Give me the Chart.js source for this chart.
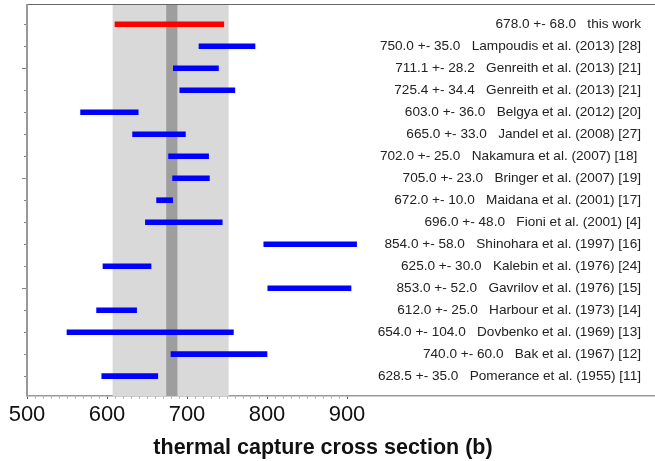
<!DOCTYPE html>
<html>
<head>
<meta charset="utf-8">
<script src="https://cdn.jsdelivr.net/npm/chart.js@4"></script>
<style>
  html, body { margin: 0; padding: 0; background: #fff; }
  #wrap { width: 655px; height: 461px; position: relative; }
</style>
</head>
<body>
<div id="wrap"><canvas id="c" width="655" height="461"></canvas></div>
<script>
// ---- data ----
const measurements = [678.0, 750.0, 711.1, 725.4, 603.0, 665.0, 702.0, 705.0, 672.0, 696.0, 854.0, 625.0, 853.0, 612.0, 654.0, 740.0, 628.5];
const uncertainties = [68.0, 35.0, 28.2, 34.4, 36.0, 33.0, 25.0, 23.0, 10.0, 48.0, 58.0, 30.0, 52.0, 25.0, 104.0, 60.0, 35.0];
const references = [
  "this work",
  "Lampoudis et al. (2013) [28]",
  "Genreith et al. (2013) [21]",
  "Genreith et al. (2013) [21]",
  "Belgya et al. (2012) [20]",
  "Jandel et al. (2008) [27]",
  "Nakamura et al. (2007) [18] ",
  "Bringer et al. (2007) [19]",
  "Maidana et al. (2001) [17]",
  "Fioni et al. (2001) [4]",
  "Shinohara et al. (1997) [16]",
  "Kalebin et al. (1976) [24]",
  "Gavrilov et al. (1976) [15]",
  "Harbour et al. (1973) [14]",
  "Dovbenko et al. (1969) [13]",
  "Bak et al. (1967) [12]",
  "Pomerance et al. (1955) [11]"
];
const wideBand = [607, 752];
const narrowBand = [674, 688];
const xTickLabels = [500, 600, 700, 800, 900];
const xTitle = "thermal capture cross section (b)";

const FONT = "'Liberation Sans', Arial, Helvetica, sans-serif";

const rows = measurements.map((v, i) => ({ x: [v - uncertainties[i], v + uncertainties[i]], y: i }));
const colors = measurements.map((v, i) => i === 0 ? '#ff0000' : '#0000ff');

const decor = {
  id: 'decor',
  beforeDatasetsDraw(chart) {
    const { ctx, chartArea: a, scales: { x } } = chart;
    ctx.save();
    ctx.fillStyle = '#d9d9d9';
    let l = x.getPixelForValue(wideBand[0]), r = x.getPixelForValue(wideBand[1]);
    ctx.fillRect(l, a.top, r - l, a.bottom - a.top);
    ctx.fillStyle = '#9e9e9e';
    l = x.getPixelForValue(narrowBand[0]); r = x.getPixelForValue(narrowBand[1]);
    ctx.fillRect(l, a.top, r - l, a.bottom - a.top);
    ctx.restore();
  },
  afterDatasetsDraw(chart) {
    const { ctx, chartArea: a, scales: { y } } = chart;
    ctx.save();
    // top frame line
    ctx.strokeStyle = '#666';
    ctx.lineWidth = 1;
    ctx.beginPath();
    ctx.moveTo(a.left, a.top + 0.5);
    ctx.lineTo(a.right, a.top + 0.5);
    ctx.stroke();
    // left axis line
    ctx.strokeStyle = '#999';
    ctx.lineWidth = 2;
    ctx.beginPath();
    ctx.moveTo(a.left, a.top);
    ctx.lineTo(a.left, a.bottom);
    ctx.stroke();
    // y ticks
    ctx.lineWidth = 1;
    ctx.strokeStyle = '#888';
    measurements.forEach((v, i) => {
      const py = Math.round(y.getPixelForValue(i)) + 0.5;
      const len = (i % 5 === 2) ? 4 : 2;
      ctx.beginPath();
      ctx.moveTo(a.left - 1 - len, py);
      ctx.lineTo(a.left - 1, py);
      ctx.stroke();
    });
    // labels
    ctx.fillStyle = '#222';
    ctx.font = '13.6px ' + FONT;
    ctx.textAlign = 'right';
    ctx.textBaseline = 'middle';
    measurements.forEach((v, i) => {
      const txt = v.toFixed(1) + ' +- ' + uncertainties[i].toFixed(1) + '   ' + references[i];
      ctx.fillText(txt, 641, y.getPixelForValue(i) + 0.5);
    });
    // axis title
    ctx.fillStyle = '#111';
    ctx.font = 'bold 21.5px ' + FONT;
    ctx.textAlign = 'center';
    ctx.textBaseline = 'alphabetic';
    ctx.fillText(xTitle, 323, 454);
    ctx.restore();
  }
};

new Chart(document.getElementById('c'), {
  type: 'bar',
  data: {
    datasets: [{
      data: rows,
      backgroundColor: colors,
      borderWidth: 0,
      barThickness: 5,
      grouped: false
    }]
  },
  options: {
    indexAxis: 'y',
    responsive: false,
    animation: false,
    devicePixelRatio: 1,
    layout: { padding: { left: 27, top: 4, right: 0, bottom: 0 } },
    plugins: { legend: { display: false }, tooltip: { enabled: false } },
    scales: {
      y: {
        type: 'linear',
        display: false,
        offset: false,
        reverse: true,
        min: -0.92,
        max: 16.9
      },
      x: {
        type: 'linear',
        min: 500,
        max: 1285,
        afterBuildTicks(scale) {
          const t = [];
          for (let v = 500; v <= 900; v += 10) t.push({ value: v });
          scale.ticks = t;
        },
        afterFit(scale) { scale.height = 65; },
        ticks: {
          autoSkip: false,
          maxRotation: 0,
          padding: 3,
          color: '#111',
          font: { family: FONT, size: 22 },
          callback: (v) => xTickLabels.includes(v) ? String(v) : ''
        },
        grid: {
          drawOnChartArea: false,
          drawTicks: true,
          tickLength: 3,
          color: (c) => (c.tick && c.tick.value % 100 === 0) ? '#555' : '#bbb'
        },
        border: { color: '#999', width: 1.5 },
        title: { display: false }
      }
    }
  },
  plugins: [decor]
});
</script>
</body>
</html>
